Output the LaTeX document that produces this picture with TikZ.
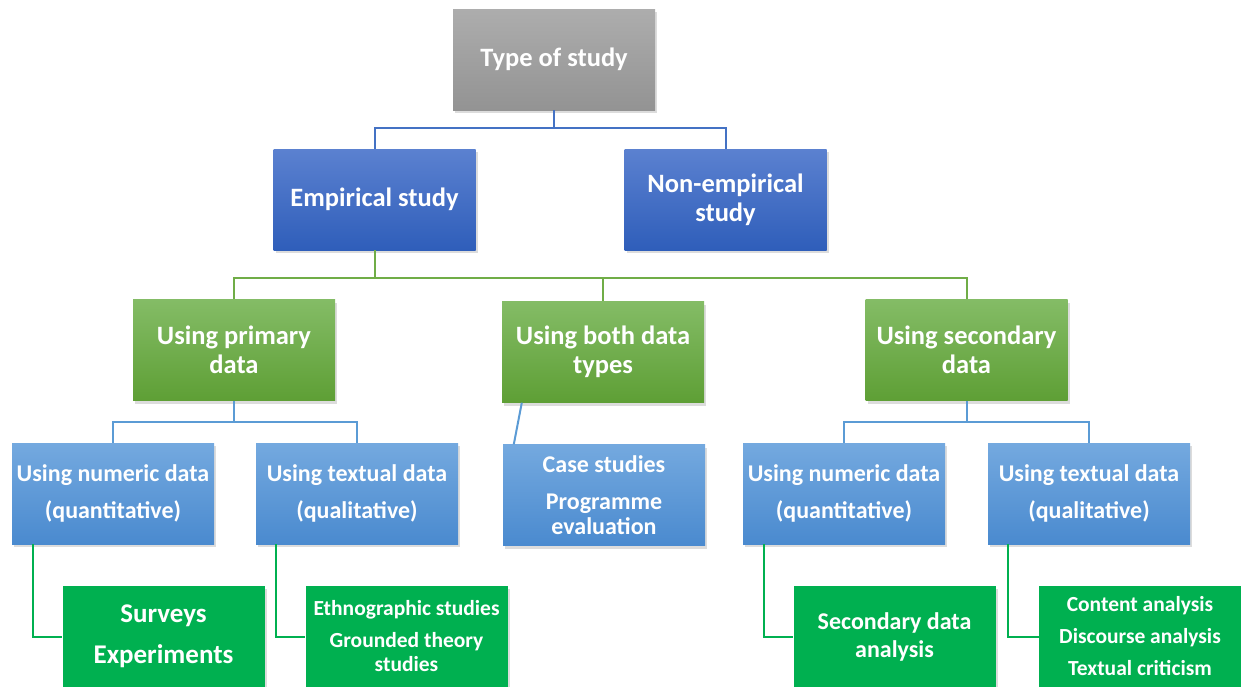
\documentclass[tikz,border=0pt]{standalone}
\usepackage{fontspec}
\setmainfont{Carlito}
\usetikzlibrary{shadows,calc}

\definecolor{grayTop}{HTML}{ADADAD}
\definecolor{grayBot}{HTML}{939393}
\definecolor{dblueTop}{HTML}{5B81D0}
\definecolor{dblueBot}{HTML}{2F5EBA}
\definecolor{lgreenTop}{HTML}{84BC66}
\definecolor{lgreenBot}{HTML}{5E9F35}
\definecolor{lblueTop}{HTML}{74A9DF}
\definecolor{lblueBot}{HTML}{4A8ACF}
\definecolor{leafGreen}{HTML}{00B050}
\definecolor{lineBlue}{HTML}{4472C4}
\definecolor{lineGreen}{HTML}{70AD47}
\definecolor{lineLBlue}{HTML}{5B9BD5}

\tikzset{
  box/.style={rectangle, inner sep=2pt, minimum width=202pt, minimum height=101pt,
    align=center, text=white, font=\bfseries,
    drop shadow={opacity=0.28, shadow xshift=2pt, shadow yshift=-3pt}},
  topbox/.style={box, top color=grayTop, bottom color=grayBot, font=\bfseries\fontsize{26.5}{30}\selectfont},
  studybox/.style={box, top color=dblueTop, bottom color=dblueBot, font=\bfseries\fontsize{26.5}{29}\selectfont},
  databox/.style={box, top color=lgreenTop, bottom color=lgreenBot, font=\bfseries\fontsize{26.5}{28.5}\selectfont},
  kindbox/.style={box, top color=lblueTop, bottom color=lblueBot, font=\bfseries\fontsize{24}{25}\selectfont},
  leafbox/.style={box, fill=leafGreen},
  linkA/.style={draw=lineBlue, line width=2pt},
  linkB/.style={draw=lineGreen, line width=2pt},
  linkC/.style={draw=lineLBlue, line width=2pt},
  linkD/.style={draw=leafGreen, line width=2pt},
}

\begin{document}
\begin{tikzpicture}[x=1pt,y=-1pt]
\useasboundingbox (0,0) rectangle (1241,686);

% level 1 and 2
\node[topbox]   (type)   at (554,59.5)   {Type of study};
\node[studybox] (emp)    at (374.5,199.5) {Empirical study};
\node[studybox] (nonemp) at (725.5,199.5) {Non-empirical\\study};

% level 3
\node[databox] (prim) at (234,350)   {Using primary\\data};
\node[databox] (both) at (603,352)   {Using both data\\types};
\node[databox] (sec)  at (966.5,350) {Using secondary\\data};

% level 4
\node[kindbox] (num1) at (113,493.5)  {Using numeric data\\[12pt](quantitative)};
\node[kindbox] (txt1) at (357,493.5)  {Using textual data\\[12pt](qualitative)};
\node[kindbox] (case) at (604,495)    {Case studies\\[12pt]Programme\\evaluation};
\node[kindbox] (num2) at (844,493.5)  {Using numeric data\\[12pt](quantitative)};
\node[kindbox] (txt2) at (1089,493.5) {Using textual data\\[12pt](qualitative)};

% level 5
\node[leafbox, font=\bfseries\fontsize{27}{28}\selectfont] (surv) at (163.5,636.5)
  {Surveys\\[13pt]Experiments};
\node[leafbox, font=\bfseries\fontsize{21.5}{24}\selectfont] (ethno) at (406.5,636.5)
  {Ethnographic studies\\[8pt]Grounded theory\\studies};
\node[leafbox, font=\bfseries\fontsize{24}{28}\selectfont] (secan) at (894.5,636.5)
  {Secondary data\\analysis};
\node[leafbox, font=\bfseries\fontsize{21.5}{24}\selectfont] (cont) at (1140,636.5)
  {Content analysis\\[8pt]Discourse analysis\\[8pt]Textual criticism};

% connectors
\draw[linkA] (type.south) -- ++(0,18) -| (emp.north);
\draw[linkA] (type.south) ++(0,18) -| (nonemp.north);

\draw[linkB] (emp.south) -- ++(0,28) -| (prim.north);
\draw[linkB] (emp.south) ++(0,28) -| (both.north);
\draw[linkB] (emp.south) ++(0,28) -| (sec.north);

\draw[linkC] (prim.south) -- ++(0,21) -| (num1.north);
\draw[linkC] (prim.south) ++(0,21) -| (txt1.north);
\draw[linkC] (sec.south) -- ++(0,21) -| (num2.north);
\draw[linkC] (sec.south) ++(0,21) -| (txt2.north);
\draw[linkC] ($(both.south west)+(20,0)$) -- ($(case.north west)+(11,0)$);

\draw[linkD] ($(num1.south west)+(21,0)$) |- (surv.west);
\draw[linkD] ($(txt1.south west)+(20,0)$) |- (ethno.west);
\draw[linkD] ($(num2.south west)+(21,0)$) |- (secan.west);
\draw[linkD] ($(txt2.south west)+(20,0)$) |- (cont.west);
\end{tikzpicture}
\end{document}
